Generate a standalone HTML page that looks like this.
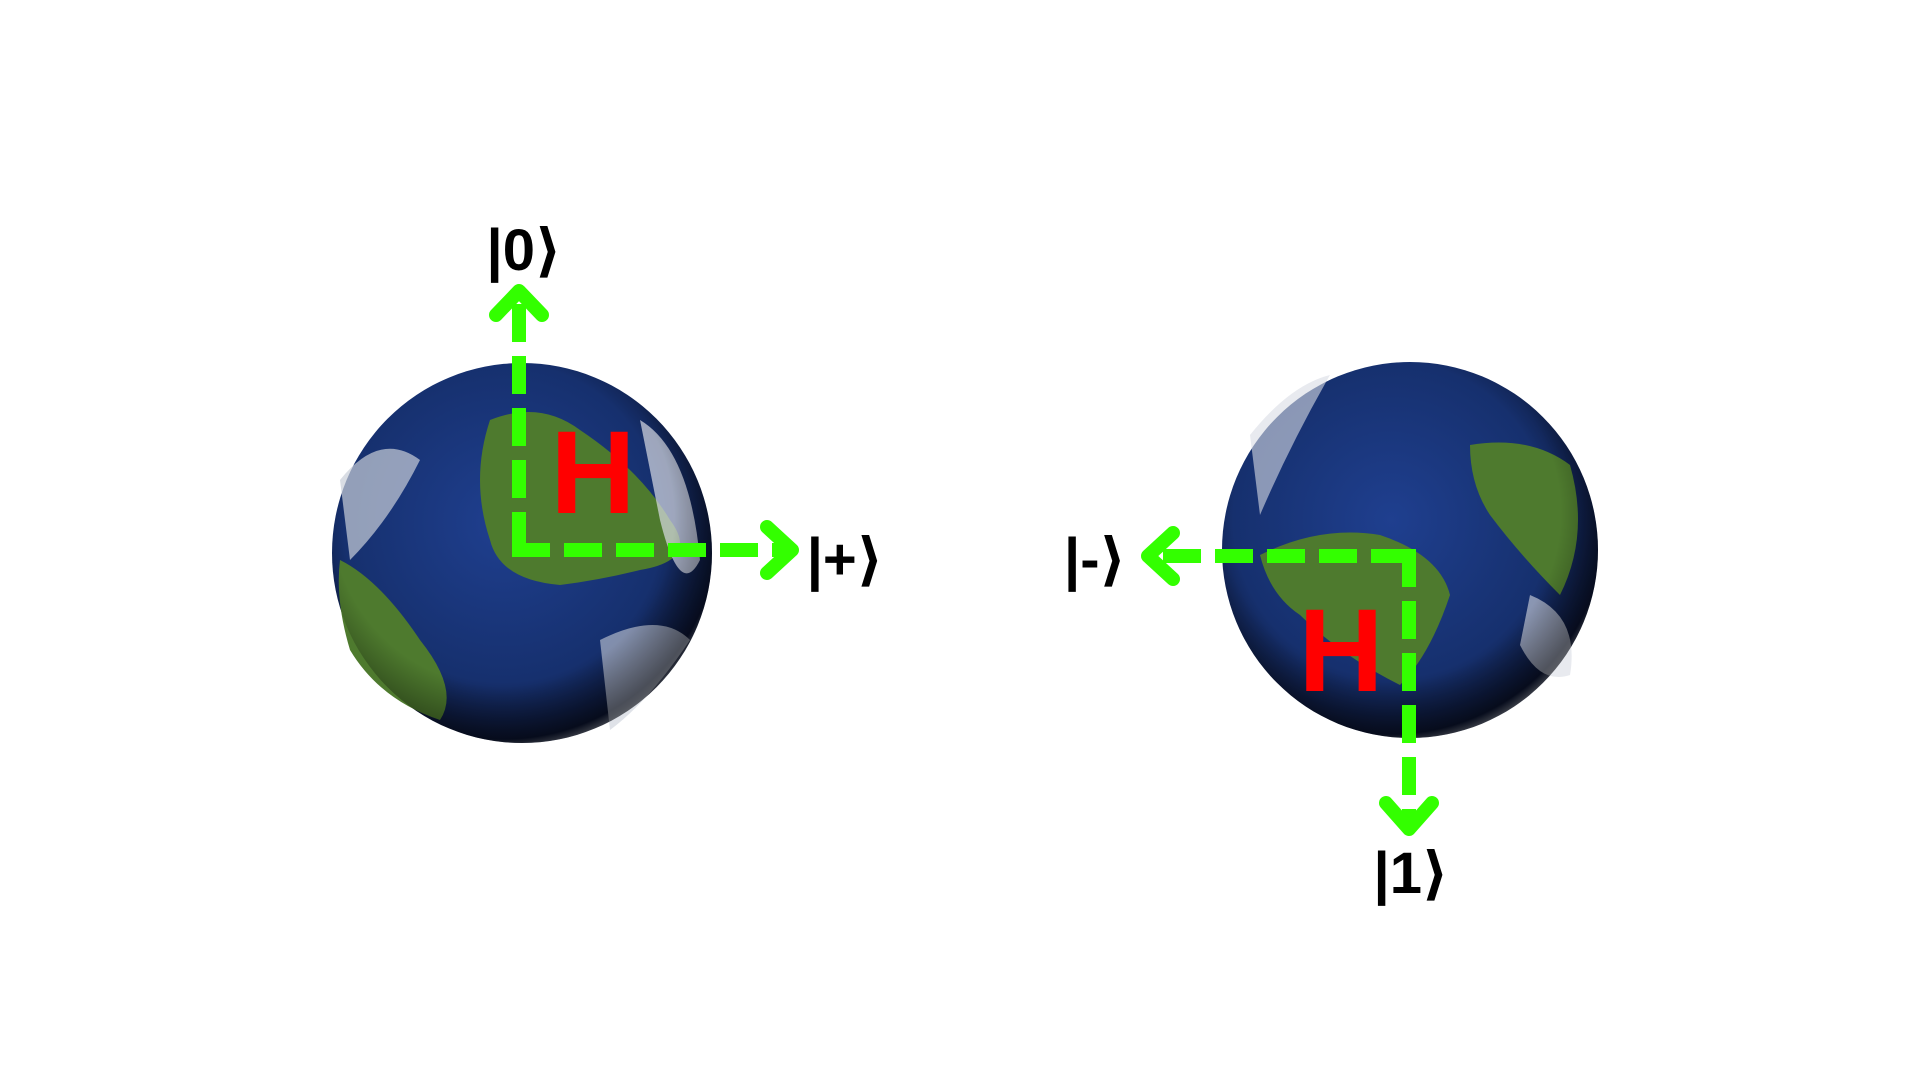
<!DOCTYPE html>
<html><head><meta charset="utf-8"><style>
html,body{margin:0;padding:0;background:#fff;width:1920px;height:1080px;overflow:hidden}
svg{display:block}
text{font-family:"Liberation Sans","DejaVu Sans",sans-serif;}
</style></head><body>
<svg width="1920" height="1080" viewBox="0 0 1920 1080">
<defs>
<radialGradient id="ocean" cx="0.45" cy="0.42" r="0.6">
<stop offset="0" stop-color="#1f3f8f"/><stop offset="0.7" stop-color="#16306e"/><stop offset="0.95" stop-color="#0b1430"/><stop offset="1" stop-color="#7a8090"/>
</radialGradient>
<radialGradient id="shade" cx="0.45" cy="0.4" r="0.6">
<stop offset="0.75" stop-color="#000" stop-opacity="0"/><stop offset="1" stop-color="#000" stop-opacity="0.45"/>
</radialGradient>
</defs>
<g>
<circle cx="522" cy="553" r="190" fill="url(#ocean)"/>
<path d="M490,420 Q540,400 580,430 Q640,470 670,520 Q700,560 640,570 Q600,580 560,585 Q500,580 490,540 Q470,480 490,420Z" fill="#4e7a2e"/>
<path d="M340,560 Q380,580 420,640 Q460,690 440,720 Q380,700 350,650 Q335,600 340,560Z" fill="#4e7a2e"/>
<path d="M340,480 Q380,430 420,460 Q390,520 350,560Z" fill="#c9ced8" opacity="0.7"/>
<path d="M640,420 Q690,450 700,560 Q680,600 660,520Z" fill="#d8dce4" opacity="0.7"/>
<path d="M600,640 Q660,610 690,640 Q650,700 610,730Z" fill="#c9ced8" opacity="0.6"/>
<circle cx="522" cy="553" r="190" fill="url(#shade)"/>
</g>
<g>
<circle cx="1410" cy="550" r="188" fill="url(#ocean)"/>
<path d="M1260,555 Q1320,525 1380,535 Q1440,555 1450,595 Q1430,655 1400,685 Q1340,655 1300,615 Q1270,595 1260,555Z" fill="#4e7a2e"/>
<path d="M1470,445 Q1530,435 1570,465 Q1590,535 1560,595 Q1520,555 1490,515 Q1470,485 1470,445Z" fill="#4e7a2e"/>
<path d="M1250,435 Q1290,385 1330,375 Q1290,445 1260,515Z" fill="#d8dce4" opacity="0.6"/>
<path d="M1530,595 Q1580,615 1570,675 Q1540,685 1520,645Z" fill="#d8dce4" opacity="0.6"/>
<circle cx="1410" cy="550" r="188" fill="url(#shade)"/>
</g>
<g fill="none" stroke="#33ff00" stroke-width="14">
<path d="M519,550 V292" stroke-dasharray="38 14"/>
<path d="M519,557 V550 H790" stroke-dasharray="38 14"/>
<path d="M1409,556 H1150" stroke-dasharray="38 14"/>
<path d="M1402,556 H1409 V826" stroke-dasharray="38 14"/>
<g stroke-linecap="round" stroke-linejoin="round">
<path d="M496,315 L519,291 L542,315"/>
<path d="M767,527 L792,550 L767,573"/>
<path d="M1173,533 L1148,556 L1173,579"/>
<path d="M1386,803 L1409,829 L1432,803"/>
</g>
</g>
<text x="593" y="513" font-size="118" font-weight="bold" fill="#ff0000" text-anchor="middle">H</text>
<text x="1341" y="691" font-size="118" font-weight="bold" fill="#ff0000" text-anchor="middle">H</text>
<g font-size="58" font-weight="bold" fill="#000" text-anchor="middle">
<text x="524" y="270">|0⟩</text>
<text x="845" y="579">|+⟩</text>
<text x="1095" y="579">|-⟩</text>
<text x="1411" y="893">|1⟩</text>
</g>
</svg>
</body></html>
